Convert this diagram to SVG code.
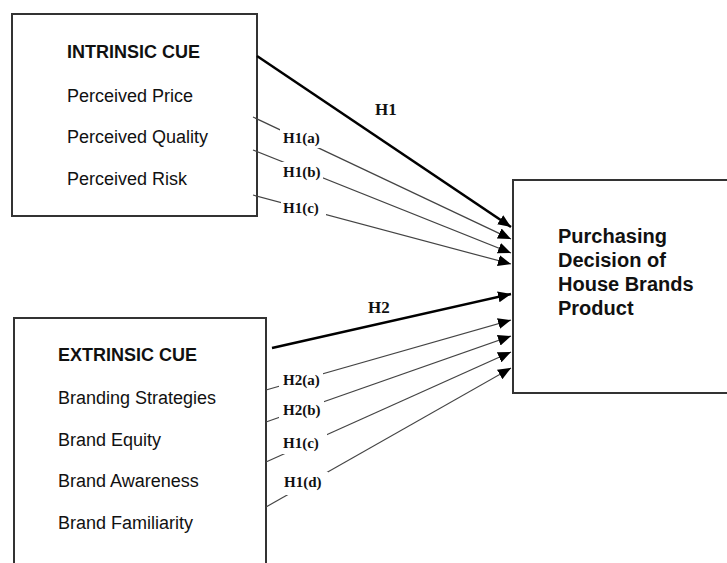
<svg xmlns="http://www.w3.org/2000/svg" width="727" height="563" viewBox="0 0 727 563">
<style>
.box{fill:#fff;stroke:#333;stroke-width:2}
.t{font-family:"Liberation Sans",Arial,sans-serif;font-size:18px;fill:#111}
.b{font-weight:bold}
.big{font-family:"Liberation Sans",Arial,sans-serif;font-size:20px;font-weight:bold;fill:#111}
.thin{stroke:#444;stroke-width:1.2;fill:none}
.thick{stroke:#000;stroke-width:2.5;fill:none}
.lab{font-family:"Liberation Serif","Times New Roman",serif;font-weight:bold;font-size:15px;fill:#111}
.labH{font-family:"Liberation Serif","Times New Roman",serif;font-weight:bold;font-size:17px;fill:#111}
.bg{fill:#fff}
</style>
<defs>
<marker id="ah" markerUnits="userSpaceOnUse" markerWidth="14" markerHeight="11" refX="13" refY="5.5" orient="auto">
<path d="M0,0 L13,5.5 L0,11 z" fill="#000"/>
</marker>
</defs>
<rect width="727" height="563" fill="#fff"/>
<g id="intrinsic">
<rect class="box" x="12" y="14" width="245" height="202"/>
<text class="t b" x="67" y="58">INTRINSIC CUE</text>
<text class="t" x="67" y="102">Perceived Price</text>
<text class="t" x="67" y="143">Perceived Quality</text>
<text class="t" x="67" y="185">Perceived Risk</text>
</g>
<g id="extrinsic">
<rect class="box" x="14" y="318" width="252" height="270"/>
<text class="t b" x="58" y="361">EXTRINSIC CUE</text>
<text class="t" x="58" y="404">Branding Strategies</text>
<text class="t" x="58" y="446">Brand Equity</text>
<text class="t" x="58" y="487">Brand Awareness</text>
<text class="t" x="58" y="529">Brand Familiarity</text>
</g>
<g id="decision">
<rect class="box" x="513" y="180" width="230" height="213"/>
<text class="big" x="558" y="243">Purchasing</text>
<text class="big" x="558" y="267">Decision of</text>
<text class="big" x="558" y="291">House Brands</text>
<text class="big" x="558" y="315">Product</text>
</g>
<g id="connectors">
<line class="thick" x1="257" y1="56" x2="511" y2="227" marker-end="url(#ah)"/>
<line class="thin" x1="253" y1="117" x2="511" y2="239" marker-end="url(#ah)"/>
<line class="thin" x1="253" y1="150" x2="511" y2="253" marker-end="url(#ah)"/>
<line class="thin" x1="253" y1="195" x2="511" y2="264" marker-end="url(#ah)"/>
<line class="thick" x1="272" y1="348" x2="511" y2="294" marker-end="url(#ah)"/>
<line class="thin" x1="266" y1="390" x2="511" y2="320" marker-end="url(#ah)"/>
<line class="thin" x1="266" y1="422" x2="511" y2="336" marker-end="url(#ah)"/>
<line class="thin" x1="266" y1="462" x2="511" y2="352" marker-end="url(#ah)"/>
<line class="thin" x1="266" y1="507" x2="511" y2="368" marker-end="url(#ah)"/>
</g>
<g id="labels">
<text class="labH" x="375" y="115">H1</text>
<rect class="bg" x="280" y="128" width="40" height="20"/>
<text class="lab" x="283" y="143">H1(a)</text>
<rect class="bg" x="281" y="162" width="42" height="20"/>
<text class="lab" x="283" y="177">H1(b)</text>
<rect class="bg" x="281" y="200" width="45" height="16"/>
<text class="lab" x="283" y="213">H1(c)</text>
<text class="labH" x="368" y="313">H2</text>
<rect class="bg" x="279" y="370" width="44" height="18"/>
<text class="lab" x="283" y="385">H2(a)</text>
<rect class="bg" x="279" y="400" width="45" height="19"/>
<text class="lab" x="283" y="415">H2(b)</text>
<rect class="bg" x="280" y="434" width="47" height="20"/>
<text class="lab" x="283" y="448">H1(c)</text>
<rect class="bg" x="280" y="472" width="48" height="23"/>
<text class="lab" x="284" y="487">H1(d)</text>
</g>
</svg>
